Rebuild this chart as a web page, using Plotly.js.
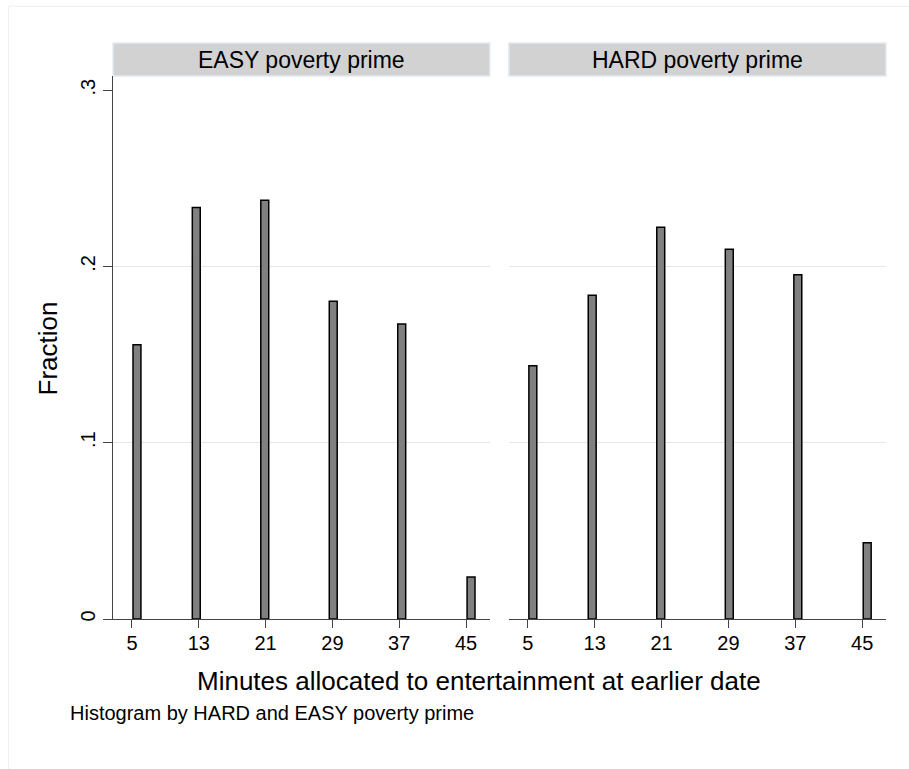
<!DOCTYPE html>
<html>
<head>
<meta charset="utf-8">
<script src="https://cdn.plot.ly/plotly-3.0.1.min.js"></script>
<style>
html,body{margin:0;padding:0;background:#fff;}
#chart{width:909px;height:769px;}
</style>
</head>
<body>
<div id="chart"></div>
<script>
// ---- data ----
const binCenters = [5.6, 12.7, 20.9, 29.1, 37.3, 45.6];
const easyFraction = [0.1556, 0.2334, 0.2375, 0.1802, 0.1673, 0.0238];
const hardFraction = [0.1437, 0.1836, 0.2222, 0.2097, 0.1953, 0.0433];
const xTickVals = [5, 13, 21, 29, 37, 45];
const xTickText = ['5', '13', '21', '29', '37', '45'];
const yTickVals = [0, 0.1, 0.2, 0.3];
const yTickText = ['0', '.1', '.2', '.3'];
const gridVals = [0.1, 0.2];
const panelTitles = ['EASY poverty prime', 'HARD poverty prime'];
const xTitle = 'Minutes allocated to entertainment at earlier date';
const yTitle = 'Fraction';
const caption = 'Histogram by HARD and EASY poverty prime';

const FONT = 'Liberation Sans, Arial, Helvetica, sans-serif';
const barStyle = {color: '#808080', line: {color: '#000000', width: 1.5}};

const traces = [
  {type: 'bar', x: binCenters, y: easyFraction, width: 0.95, marker: barStyle, xaxis: 'x', yaxis: 'y', hoverinfo: 'x+y'},
  {type: 'bar', x: binCenters, y: hardFraction, width: 0.95, marker: barStyle, xaxis: 'x2', yaxis: 'y2', hoverinfo: 'x+y'}
];

const xRange = [2.73, 47.85];
const yRange = [0, 0.308];

function xAxis(domain) {
  return {
    domain: domain, range: xRange, tickmode: 'array', tickvals: xTickVals, ticktext: xTickText,
    ticks: 'outside', ticklen: 8, tickwidth: 1, tickcolor: '#444', ticklabelstandoff: -2,
    showline: true, linecolor: '#444', linewidth: 1.2, showgrid: false, zeroline: false,
    tickfont: {family: FONT, size: 20, color: '#000'}, fixedrange: true
  };
}

const layout = {
  width: 909, height: 769,
  margin: {l: 113.3, r: 23, t: 75.7, b: 150.3},
  paper_bgcolor: '#ffffff', plot_bgcolor: '#ffffff',
  showlegend: false, bargap: 0,
  font: {family: FONT, color: '#000'},
  xaxis: xAxis([0, 0.4875]),
  xaxis2: xAxis([0.5121, 1]),
  yaxis: {
    range: yRange, tickmode: 'array', tickvals: yTickVals, ticktext: yTickText,
    ticks: 'outside', ticklen: 9, tickwidth: 1, tickcolor: '#444', tickangle: -90,
    showline: true, linecolor: '#444', linewidth: 1.2, showgrid: false, zeroline: false,
    tickfont: {family: FONT, size: 20, color: '#000'}, fixedrange: true
  },
  yaxis3: {
    overlaying: 'y', matches: 'y', range: yRange, tickmode: 'array', tickvals: gridVals,
    showgrid: true, gridcolor: '#e6e6e6', gridwidth: 1.2, showticklabels: false, ticks: '',
    zeroline: false, showline: false
  },
  yaxis2: {
    anchor: 'x2', range: yRange, tickmode: 'array', tickvals: gridVals,
    showgrid: true, gridcolor: '#e6e6e6', gridwidth: 1.2, showticklabels: false, ticks: '',
    zeroline: false, showline: false, fixedrange: true
  },
  shapes: [
    {type: 'rect', xref: 'paper', yref: 'paper', x0: -0.135, x1: 1.2, y0: -0.4, y1: 1.1284,
     fillcolor: 'rgba(0,0,0,0)', line: {color: '#eeeeee', width: 1}, layer: 'below'},
    {type: 'rect', xref: 'x domain', yref: 'paper', x0: 0, x1: 1, y0: 1.0, y1: 1.0608,
     fillcolor: '#d2d2d2', line: {color: '#e2eaee', width: 1.5}, layer: 'below'},
    {type: 'rect', xref: 'x2 domain', yref: 'paper', x0: 0, x1: 1, y0: 1.0, y1: 1.0608,
     fillcolor: '#d2d2d2', line: {color: '#e2eaee', width: 1.5}, layer: 'below'}
  ],
  annotations: [
    {text: panelTitles[0], xref: 'x domain', yref: 'paper', x: 0.5, y: 1.0302, xanchor: 'center', yanchor: 'middle',
     showarrow: false, font: {family: FONT, size: 23, color: '#000'}},
    {text: panelTitles[1], xref: 'x2 domain', yref: 'paper', x: 0.5, y: 1.0302, xanchor: 'center', yanchor: 'middle',
     showarrow: false, font: {family: FONT, size: 23, color: '#000'}},
    {text: xTitle, xref: 'paper', yref: 'paper', x: 0.4729, y: -0.1147, xanchor: 'center', yanchor: 'middle',
     showarrow: false, font: {family: FONT, size: 26, color: '#000'}},
    {text: yTitle, xref: 'paper', yref: 'paper', x: -0.0845, y: 0.4976, xanchor: 'center', yanchor: 'middle',
     textangle: -90, showarrow: false, font: {family: FONT, size: 26, color: '#000'}},
    {text: caption, xref: 'paper', yref: 'paper', x: -0.0586, y: -0.1737, xanchor: 'left', yanchor: 'middle',
     showarrow: false, font: {family: FONT, size: 20, color: '#000'}}
  ]
};

// empty trace so the overlay grid axis is drawn
traces.push({type: 'scatter', x: [], y: [], xaxis: 'x', yaxis: 'y3', hoverinfo: 'skip'});

Plotly.newPlot('chart', traces, layout, {displayModeBar: false, staticPlot: true});
</script>
</body>
</html>
